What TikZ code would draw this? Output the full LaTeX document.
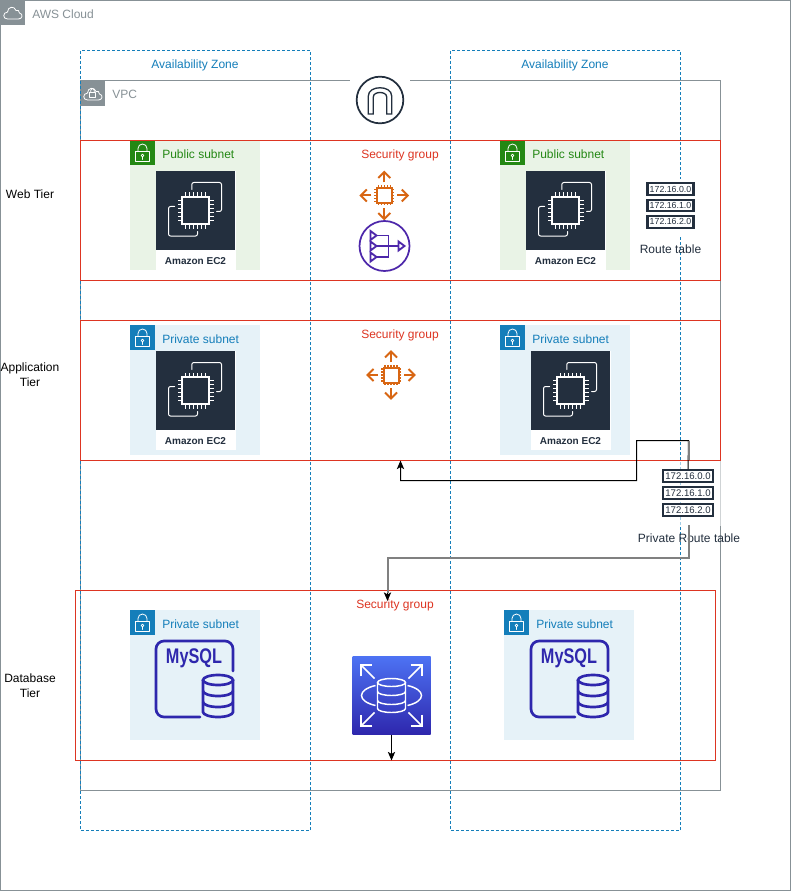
\documentclass[tikz,border=0pt]{standalone}
\usepackage{fontspec}
\usepackage{graphicx}
\setmainfont{Liberation Sans}
\usetikzlibrary{arrows.meta,calc}
\definecolor{awsgray}{HTML}{879196}
\definecolor{azblue}{HTML}{147EBA}
\definecolor{sgred}{HTML}{DD3522}
\definecolor{pubfill}{HTML}{E9F3E6}
\definecolor{privfill}{HTML}{E6F2F8}
\definecolor{pubgreen}{HTML}{248814}
\definecolor{navy}{HTML}{232F3E}
\definecolor{ec2orange}{HTML}{D86613}
\definecolor{natpurple}{HTML}{4D27AA}
\definecolor{dbblue}{HTML}{2E27AD}
\definecolor{rdstop}{HTML}{4D72F3}
\tikzset{
  x=0.75pt,y=-0.75pt,
  lbl/.style={font=\fontsize{9}{11}\selectfont,inner sep=0pt,align=center},
  grp/.style={draw=sgred,line width=0.75pt,inner sep=0pt,outer sep=0pt},
  head/.style={fill=#1,draw=none,minimum size=18.75pt,inner sep=0pt,outer sep=0pt},
  wline/.style={draw=white,line width=0.75pt,line join=round,line cap=round},
  conn/.style={draw=black,line width=0.75pt,-{Stealth[length=6.5pt,width=5.5pt,inset=1.6pt]}},
  connshadow/.style={draw=black!50,line width=1.5pt},
  pics/lockicon/.style={code={
    \draw[wline,line width=0.6pt] (-7,-1.5) rectangle (7,9);
    \draw[wline,line width=0.6pt] (-4.5,-1.5) -- (-4.5,-4) arc[start angle=180,end angle=360,radius=4.5] -- (4.5,-1.5);
    \draw[wline,line width=0.6pt] (0,3) circle (1.4);
    \draw[wline,line width=0.6pt] (0,4.4) -- (0,7);
  }},
  pics/cloudicon/.style={code={
    \draw[wline,line width=0.6pt] (-5,6.5) .. controls (-10,6.5) and (-10,0) .. (-5,-0.5) .. controls (-5,-6) and (2,-7) .. (3.5,-2) .. controls (5,-3) and (7,-2) .. (7,0.5) .. controls (11,1.5) and (10,6.5) .. (6,6.5) -- cycle;
  }},
  pics/chipicon/.style={code={
    \draw[wline,line width=1.3pt,line cap=butt,line join=miter] (-13.5,-13.5) rectangle (13.5,13.5);
    \foreach \k in {-10,-6,-2,2,6,10}{
      \draw[wline,line cap=butt] (\k,-13.5) -- (\k,-18);
      \draw[wline,line cap=butt] (\k,13.5) -- (\k,18);
      \draw[wline,line cap=butt] (-13.5,\k) -- (-18,\k);
      \draw[wline,line cap=butt] (13.5,\k) -- (18,\k);
    }
    \draw[wline,rounded corners=1.5pt] (-3.7,-21) -- (-3.7,-28) -- (26,-28) -- (26,1) -- (21,1);
    \draw[wline,rounded corners=1.5pt] (-21,-4) -- (-27,-4) -- (-27,25.5) -- (2,25.5) -- (2,21);
  }},
  pics/sgicon/.style={code={
    \draw[ec2orange,line width=1.5pt] (-7.5,-7.5) rectangle (7.5,7.5);
    \foreach \k in {-6,-3,0,3,6}{
      \draw[ec2orange,line width=0.8pt] (\k,-7.5) -- (\k,-10) (\k,7.5) -- (\k,10) (-7.5,\k) -- (-10,\k) (7.5,\k) -- (10,\k);
    }
    \foreach \a in {0,90,180,270}{
      \begin{scope}[rotate=\a]
        \draw[ec2orange,line width=1.5pt] (13,0) -- (23.5,0);
        \draw[ec2orange,line width=1.5pt] (17.5,-6) -- (23.5,0) -- (17.5,6);
      \end{scope}
    }
  }},
  pics/tablerows/.style n args={4}{code={
    \foreach \yy in {0,1,2}{
      \pgfmathtruncatemacro{\rowval}{\yy}
      \node[draw=navy,line width=1.6pt,fill=white,minimum width=#1,minimum height=#2,inner sep=0pt,font=\fontsize{#4}{8}\selectfont,text=navy] at (0,\yy*#3) {172.16.\rowval.0};
    }
  }},
  pics/mysqlicon/.style={code={
    \draw[dbblue,line width=2pt,line cap=round,rounded corners=6pt] (5,38) -- (-39,38) -- (-39,-38) -- (38,-38) -- (38,-8);
    \node[font=\bfseries\fontsize{12.2}{14}\selectfont,text=dbblue,inner sep=0pt] at (-1,-20.5) {\scalebox{1}[1.3]{MySQL}};
    \draw[dbblue,line width=2pt] (8,1) -- (8,33) arc[start angle=180,end angle=0,x radius=15,y radius=5] -- (38,1);
    \draw[dbblue,line width=2pt] (23,1) ellipse[x radius=15,y radius=5];
    \draw[dbblue,line width=2pt] (8,12) arc[start angle=180,end angle=0,x radius=15,y radius=5];
    \draw[dbblue,line width=2pt] (8,23) arc[start angle=180,end angle=0,x radius=15,y radius=5];
  }},
}
\newcommand{\subnet}[4]{%
  \node[fill=#4,draw=none,minimum size=97.5pt,inner sep=0pt,outer sep=0pt,anchor=north west] (#1) at (#2,#3) {};
}
\begin{document}
\begin{tikzpicture}
\useasboundingbox (0,0) rectangle (791,891);
\fill[white] (0,0) rectangle (791,891);
% AWS cloud
\coordinate (c1) at (0.5,0.5); \coordinate (c2) at (790.5,890.5);
\draw[draw=awsgray,line width=0.75pt] (c1) rectangle (c2);
\node[head=awsgray,anchor=north west] (cloudhead) at (0,0) {};
\pic at (cloudhead.center) {cloudicon};
\node[lbl,anchor=west,text=awsgray] (cloudlbl) at (32,14) {AWS Cloud};
% VPC
\draw[draw=awsgray,line width=0.75pt] (80.5,81) rectangle (720.5,790.5);
\node[head=awsgray,anchor=north west] (vpchead) at (80,81) {};
\pic at (vpchead.center) {cloudicon};
\draw[wline,line width=0.5pt] (89.5,92) rectangle (95.5,97);
\draw[wline,line width=0.5pt] (90.8,92) -- (90.8,90) arc[start angle=180,end angle=360,radius=1.7] -- (94.2,92);
\node[lbl,anchor=west,text=awsgray] (vpclbl) at (112,94) {VPC};
% AZ
\draw[azblue,line width=0.75pt,dash pattern=on 2.25pt off 1.5pt] (80.5,51) rectangle (310.5,830.5);
\draw[azblue,line width=0.75pt,dash pattern=on 2.25pt off 1.5pt] (450.5,51) rectangle (680.5,830.5);
\node[lbl,text=azblue] (az1) at (195,65) {Availability Zone};
\node[lbl,text=azblue] (az2) at (565,65) {Availability Zone};
% Internet gateway
\fill[white] (350,60) rectangle (410,125);
\node[circle,draw=navy,line width=1.3pt,minimum size=35pt,inner sep=0pt] (igw) at (380,100) {};
\draw[navy,line width=1pt,line join=miter] (368.3,114) -- (368.3,96) .. controls (368.3,85) and (391.7,85) .. (391.7,96) -- (391.7,114) -- (386.7,114) -- (386.7,97) .. controls (386.7,91) and (373.3,91) .. (373.3,97) -- (373.3,114) -- cycle;
% Subnets
\subnet{sub1}{130}{140}{pubfill}
\subnet{sub2}{500}{140}{pubfill}
\subnet{sub3}{130}{325}{privfill}
\subnet{sub4}{500}{325}{privfill}
\subnet{sub5}{130}{610}{privfill}
\subnet{sub6}{504}{610}{privfill}
\foreach \nm/\col/\tx in {sub1/pubgreen/Public subnet,sub2/pubgreen/Public subnet,sub3/azblue/Private subnet,sub4/azblue/Private subnet,sub5/azblue/Private subnet,sub6/azblue/Private subnet}{
  \node[head=\col,anchor=north west] (\nm h) at (\nm.north west) {};
  \pic at (\nm h.center) {lockicon};
  \node[lbl,anchor=west,text=\col] (\nm t) at ($(\nm.north west)+(32,14.5)$) {\tx};
}
% EC2 tiles
\foreach \nm/\xx/\yy in {e1/195.5/210.5,e2/565.5/210.5,e3/195.5/390.5,e4/570.5/390.5}{
  \node[fill=white,minimum width=60pt,minimum height=74.5pt,inner sep=0pt] (\nm bg) at (\xx,\yy+10) {};
  \node[fill=navy,minimum size=59pt,inner sep=0pt] (\nm) at (\xx,\yy) {};
  \pic at (\nm.center) {chipicon};
  \node[font=\bfseries\fontsize{7.5}{9}\selectfont,text=navy,inner sep=0pt] (\nm l) at (\xx,\yy+51) {Amazon EC2};
}
% MySQL
\pic at (195,679) {mysqlicon};
\pic at (570,679) {mysqlicon};
% Tier groups
\node[grp,minimum width=480pt,minimum height=105pt,anchor=north west] (webtier) at (80.5,140.5) {};
\node[grp,minimum width=480pt,minimum height=105pt,anchor=north west] (apptier) at (80.5,320.5) {};
\node[grp,minimum width=480pt,minimum height=127.5pt,anchor=north west] (dbtier) at (75.5,590.5) {};
% RDS
\shade[bottom color=dbblue,top color=rdstop] (352.5,656.5) rectangle (430.5,734.5);
\node[minimum size=58.5pt,inner sep=0pt,outer sep=0pt] (rds) at (391.5,695.5) {};
\begin{scope}[shift={(391.5,695.5)},white,line width=1.1pt]
  \draw (-16,-10) .. controls (-25,-8) and (-30,-4) .. (-30,0) .. controls (-30,4) and (-25,8) .. (-16,10);
  \draw (16,-10) .. controls (25,-8) and (30,-4) .. (30,0) .. controls (30,4) and (25,8) .. (16,10);
  \draw (0,-13) ellipse[x radius=14,y radius=4];
  \draw (-14,-13) -- (-14,13) arc[start angle=180,end angle=0,x radius=14,y radius=4] -- (14,-13);
  \draw (-14,-4) arc[start angle=180,end angle=0,x radius=14,y radius=4];
  \draw (-14,5) arc[start angle=180,end angle=0,x radius=14,y radius=4];
  \foreach \a in {45,135,225,315}{
    \begin{scope}[rotate=\a]
      \draw (24,0) -- (43,0);
      \draw (35,-8) -- (43,0) -- (35,8);
    \end{scope}
  }
\end{scope}
\node[lbl,text=sgred] (sg1) at (400,155) {Security group};
\node[lbl,text=sgred] (sg2) at (400,335) {Security group};
\node[lbl,text=sgred] (sg3) at (395,605) {Security group};
% Security icons
\pic at (384.3,195.5) {sgicon};
\pic at (391,375) {sgicon};
% NAT
\node[circle,draw=natpurple,line width=1.3pt,minimum size=37.5pt,inner sep=0pt] (nat) at (384.5,246) {};
\begin{scope}[shift={(384.5,246)},natpurple,line width=1.4pt,line join=miter]
  \draw (-14,-15) -- (-8,-10.5) -- (-14,-6) -- cycle;
  \draw (-14,-4.5) -- (-8,0) -- (-14,4.5) -- cycle;
  \draw (-14,6.5) -- (-8,11) -- (-14,15.5) -- cycle;
  \draw (-8,-10.5) -- (4,-10.5) -- (4,11) -- (-8,11);
  \draw (-8,0) -- (14,0);
  \draw (14,-4.5) -- (20,0) -- (14,4.5) -- cycle;
\end{scope}
% Route tables
\node[fill=white,minimum width=36pt,minimum height=42pt,inner sep=0pt] (rt1bg) at (670,207) {};
\pic at (670.5,189) {tablerows={34.5pt}{8.7pt}{16.4}{6.6}};
\node[lbl,text=navy] (rt1) at (670.5,249.5) {Route table};
\node[fill=white,fill opacity=0.6,minimum width=49pt,minimum height=48.75pt,inner sep=0pt,anchor=north west] (rt2bg) at (655,461) {};
\node[inner sep=0pt,minimum width=40pt,minimum height=37pt] (rt2) at (688,494) {};
\pic at (688,476) {tablerows={37.5pt}{9.5pt}{17}{7.2}};
\node[lbl,text=navy] (rt2l) at (689,538.5) {Private Route table};
% Connectors
\coordinate (j1) at (688.5,440.5);
\coordinate (j2) at (636.5,440.5);
\coordinate (j3) at (636.5,480.5);
\coordinate (j4) at (688.5,558);
\coordinate (j5) at (387.5,558);
\coordinate (j6) at (387.5,601);
\coordinate (s0) at (688.5,525);
\draw[conn] (rt2.north) -- (j1) -- (j2) -- (j3) -| (apptier.south);
\draw[connshadow] (j1) -- (688.5,460);
\draw[conn] (s0) -- (j4) -- (j5) -- (j6);
\draw[connshadow,line join=miter] (s0) -- (j4) -- (j5) -- (387.5,593);
\draw[conn] (rds.south) -- (rds.south |- dbtier.south);
% Tier labels
\node[lbl,text=black] (t1) at (30,194.5) {Web Tier};
\node[lbl,text=black] (t2) at (30,374.5) {Application\\Tier};
\node[lbl,text=black] (t3) at (30,685.5) {Database\\Tier};
\end{tikzpicture}
\end{document}
